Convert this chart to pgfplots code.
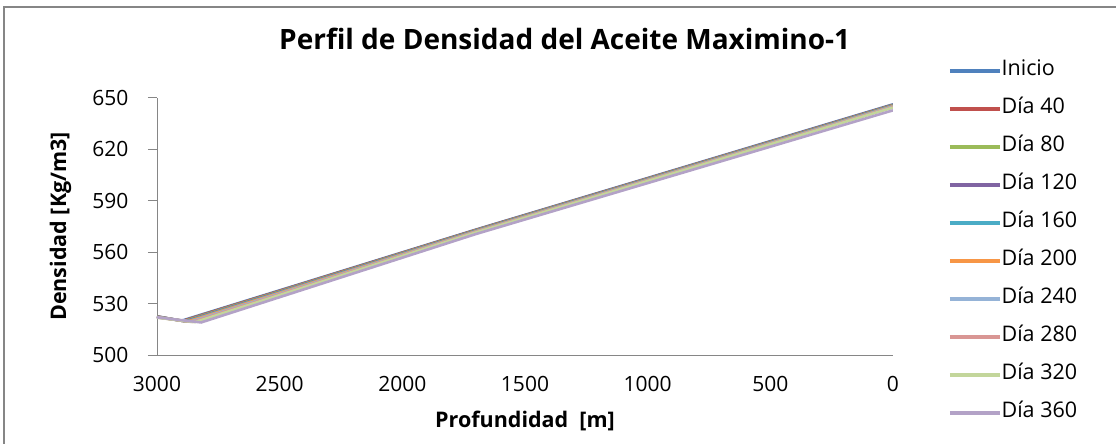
\documentclass[border=0pt]{standalone}
\usepackage{fontspec}
\setmainfont{Open Sans}
\usepackage{pgfplots}
\pgfplotsset{compat=1.18}
\definecolor{c0}{HTML}{4F81BD}
\definecolor{c1}{HTML}{C0504D}
\definecolor{c2}{HTML}{9BBB59}
\definecolor{c3}{HTML}{8064A2}
\definecolor{c4}{HTML}{4BACC6}
\definecolor{c5}{HTML}{F79646}
\definecolor{c6}{HTML}{95B3D7}
\definecolor{c7}{HTML}{D99694}
\definecolor{c8}{HTML}{C3D69B}
\definecolor{c9}{HTML}{B3A2C7}
\definecolor{axgray}{HTML}{868686}
\begin{document}
\begin{tikzpicture}
\useasboundingbox (-157pt,-89pt) rectangle (959pt,355pt);
\draw[axgray, line width=1.6pt] (-153pt,-120pt) rectangle (990pt,348pt);
\begin{axis}[
  at={(0pt,0pt)}, anchor=south west,
  scale only axis, width=736pt, height=257pt,
  xmin=0, xmax=3000, ymin=500, ymax=650,
  x dir=reverse,
  axis x line=bottom, axis y line=left,
  axis line style={axgray, line width=0.8pt, -},
  xtick={0,500,...,3000}, ytick={500,530,...,650},
  x tick style={draw=none},
  y tick style={axgray, line width=1pt},
  tick align=outside, major tick length=9pt,
  /pgf/number format/assume math mode=true,
  /pgf/number format/set thousands separator={},
  ticklabel style={font=\fontsize{21}{24}\selectfont},
  xticklabel style={yshift=-9pt},
  yticklabel style={xshift=-16pt},
  xlabel={\textbf{Profundidad\ \ [m]}},
  ylabel={\textbf{Densidad [Kg/m3]}},
  label style={font=\fontsize{21.5}{24}\selectfont},
  xlabel style={at={(axis description cs:0.5,-0.257)}, anchor=center},
  ylabel style={at={(axis description cs:-0.131,0.5)}, anchor=center, rotate=0},
  title={\textbf{Perfil de Densidad del Aceite Maximino-1}},
  title style={font=\fontsize{28}{31}\selectfont, at={(axis description cs:0.554,1.206)}, anchor=center},
  legend style={draw=none, fill=none, at={(axis description cs:1.0707,1.15)}, anchor=north west,
    font=\fontsize{21.5}{24}\selectfont, row sep=19pt,
    nodes={inner sep=0pt, text height=14pt, text depth=5pt}},
  legend cell align=left,
  legend image code/.code={\draw[#1, line width=3.4pt] (0pt,0pt) -- (50pt,0pt);},
  every axis plot/.append style={line width=2.6pt},
]
\addplot[c0] coordinates {(3000,522.6) (2900,520.0) (1700,573.2) (0,646.3)};
\addlegendentry{Inicio}
\addplot[c1] coordinates {(3000,522.5) (2895,519.9) (1700,573.0) (0,646.0)};
\addlegendentry{Día 40}
\addplot[c2] coordinates {(3000,522.4) (2890,519.8) (1700,572.8) (0,645.8)};
\addlegendentry{Día 80}
\addplot[c3] coordinates {(3000,522.3) (2885,519.7) (1700,572.6) (0,645.6)};
\addlegendentry{Día 120}
\addplot[c4] coordinates {(3000,522.2) (2880,519.6) (1700,572.4) (0,645.4)};
\addlegendentry{Día 160}
\addplot[c5] coordinates {(3000,522.1) (2875,519.5) (1700,572.2) (0,645.2)};
\addlegendentry{Día 200}
\addplot[c6] coordinates {(3000,522.0) (2865,519.4) (1700,572.0) (0,645.0)};
\addlegendentry{Día 240}
\addplot[c7] coordinates {(3000,521.9) (2855,519.3) (1700,571.8) (0,644.7)};
\addlegendentry{Día 280}
\addplot[c8] coordinates {(3000,521.8) (2845,519.2) (1700,571.5) (0,644.4)};
\addlegendentry{Día 320}
\addplot[c9] coordinates {(3000,522.0) (2820,519.0) (1700,570.6) (0,642.8)};
\addlegendentry{Día 360}
\end{axis}
\end{tikzpicture}
\end{document}
